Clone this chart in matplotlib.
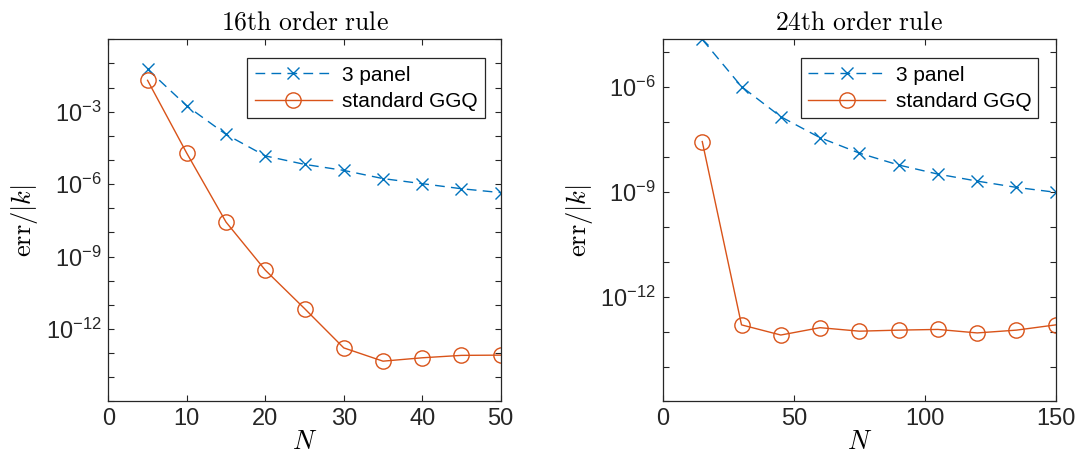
import numpy as np
import matplotlib
matplotlib.use("Agg")
import matplotlib.pyplot as plt
from matplotlib.ticker import FixedLocator, FuncFormatter, NullLocator

plt.rcParams["mathtext.fontset"] = "cm"
plt.rcParams["font.family"] = ["Liberation Sans", "DejaVu Sans"]

# ---- data (log10 of err/|k|) ----
n16 = [5, 10, 15, 20, 25, 30, 35, 40, 45, 50]
panel3_16 = [-1.24, -2.76, -3.94, -4.83, -5.18, -5.43, -5.77, -5.98, -6.19, -6.35]
ggq_16 = [-1.70, -4.72, -7.57, -9.56, -11.15, -12.78, -13.33, -13.19, -13.09, -13.08]

n24 = [15, 30, 45, 60, 75, 90, 105, 120, 135, 150]
panel3_24 = [-4.65, -6.00, -6.86, -7.46, -7.90, -8.24, -8.50, -8.70, -8.88, -9.02]
ggq_24 = [-7.57, -12.81, -13.10, -12.89, -12.99, -12.96, -12.94, -13.04, -12.96, -12.81]

titles = ["16th order rule", "24th order rule"]
xlims = [(0, 50), (0, 150)]
xticks = [[0, 10, 20, 30, 40, 50], [0, 50, 100, 150]]
ylims = [(1e-15, 1e0), (1e-15, 10 ** -4.646)]
ylabeled = [[-3, -6, -9, -12], [-6, -9, -12]]

BLUE = "#0072BD"
ORANGE = "#D95319"
AXC = "#262626"

fig = plt.figure(figsize=(10.81, 4.68), dpi=100)
axes = [fig.add_axes([0.1002, 0.1421, 0.3630, 0.7740]),
        fig.add_axes([0.6133, 0.1421, 0.3633, 0.7740])]
legend_anchor = [(0.960, 0.9476), (0.956, 0.9476)]

series = [(n16, panel3_16, ggq_16), (n24, panel3_24, ggq_24)]

for i, ax in enumerate(axes):
    n, p3, gq = series[i]
    ax.semilogy(n, 10 ** np.array(p3), color=BLUE, lw=1.0, marker="x",
                markersize=9, markeredgewidth=1.0, dashes=(7, 4.5),
                label="3 panel")
    ax.semilogy(n, 10 ** np.array(gq), color=ORANGE, lw=1.0, marker="o",
                markersize=11, markerfacecolor="none", markeredgewidth=1.0,
                label="standard GGQ")

    ax.set_xlim(*xlims[i])
    ax.set_ylim(*ylims[i])
    ax.set_xticks(xticks[i])

    lo = int(np.ceil(np.log10(ylims[i][0])))
    hi = int(np.floor(np.log10(ylims[i][1])))
    decades = list(range(lo, hi + 1))
    ax.yaxis.set_major_locator(FixedLocator([10.0 ** d for d in decades]))
    ax.yaxis.set_minor_locator(NullLocator())
    labs = ylabeled[i]
    ax.yaxis.set_major_formatter(FuncFormatter(
        lambda v, pos, labs=labs: (r"$\mathregular{10^{%d}}$" % round(np.log10(v)))
        if round(np.log10(v)) in labs else ""))

    ax.tick_params(direction="in", length=4, width=0.8, top=True, right=True,
                   labelsize=17, colors=AXC, pad=5)
    for s in ax.spines.values():
        s.set_color(AXC)
        s.set_linewidth(0.9)

    ax.set_title(r"$\mathrm{%s}$" % titles[i].replace(" ", r"\ "),
                 fontsize=18.5, pad=7)
    ax.set_xlabel(r"$N$", fontsize=19, labelpad=0)
    ax.set_ylabel(r"$\mathrm{err}/|k|$", fontsize=19, labelpad=4)

    leg = ax.legend(loc="upper right", bbox_to_anchor=legend_anchor[i],
                    borderaxespad=0, fontsize=15, handlelength=3.7,
                    numpoints=1, fancybox=False, framealpha=1,
                    edgecolor=AXC, borderpad=0.35, labelspacing=0.35,
                    handletextpad=0.5)
    leg.get_frame().set_linewidth(0.9)

fig.savefig("out.png", dpi=100)
